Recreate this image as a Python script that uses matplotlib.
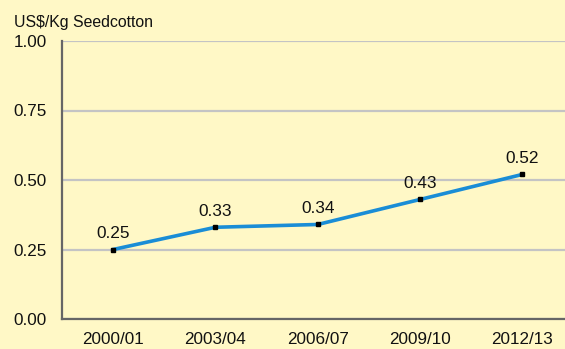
import matplotlib
matplotlib.use("Agg")
import matplotlib.pyplot as plt

seasons = ["2000/01", "2003/04", "2006/07", "2009/10", "2012/13"]
prices = [0.25, 0.33, 0.34, 0.43, 0.52]
yticks = [0.00, 0.25, 0.50, 0.75, 1.00]
ylabel = "US$/Kg Seedcotton"

plt.rcParams['font.family'] = ['Liberation Sans', 'DejaVu Sans']
bg = "#FFF8C6"
fig = plt.figure(figsize=(5.65, 3.49), dpi=100, facecolor=bg)
ax = fig.add_axes([62/565, 1-319/349, 1-62/565, (319-41)/349])
ax.set_facecolor(bg)

x = list(range(len(seasons)))
ax.plot(x, prices, color="#1A8DD6", lw=2.6, marker="s", ms=3.5,
        mfc="black", mec="black", zorder=3, clip_on=False)
for xi, v in zip(x, prices):
    ax.annotate(f"{v:.2f}", (xi, v), xytext=(0, 6), textcoords="offset points",
                ha="center", va="bottom", fontsize=12.4, color="#111111")

ax.set_xlim(-0.5, (565-62)/102.3 - 0.5)
ax.set_ylim(0, 1)
ax.set_yticks(yticks)
ax.set_yticklabels([f"{t:.2f}" for t in yticks])
ax.set_xticks(x)
ax.set_xticklabels(seasons)
ax.tick_params(length=0, labelsize=12.3, colors="#111111")
ax.tick_params(axis="y", pad=11)
ax.tick_params(axis="x", pad=9)
ax.grid(axis="y", color="#C4C4C4", lw=1.6)
ax.set_axisbelow(True)
for s in ["top", "right"]:
    ax.spines[s].set_visible(False)
ax.spines["left"].set_color("#666666")
ax.spines["left"].set_linewidth(1.6)
ax.spines["bottom"].set_color("#666666")
ax.spines["bottom"].set_linewidth(1.6)

fig.text(14/565, 1-22/349, ylabel, fontsize=11.4, ha="left", va="center", color="#111111")

fig.savefig("out.png", dpi=100, facecolor=bg)
